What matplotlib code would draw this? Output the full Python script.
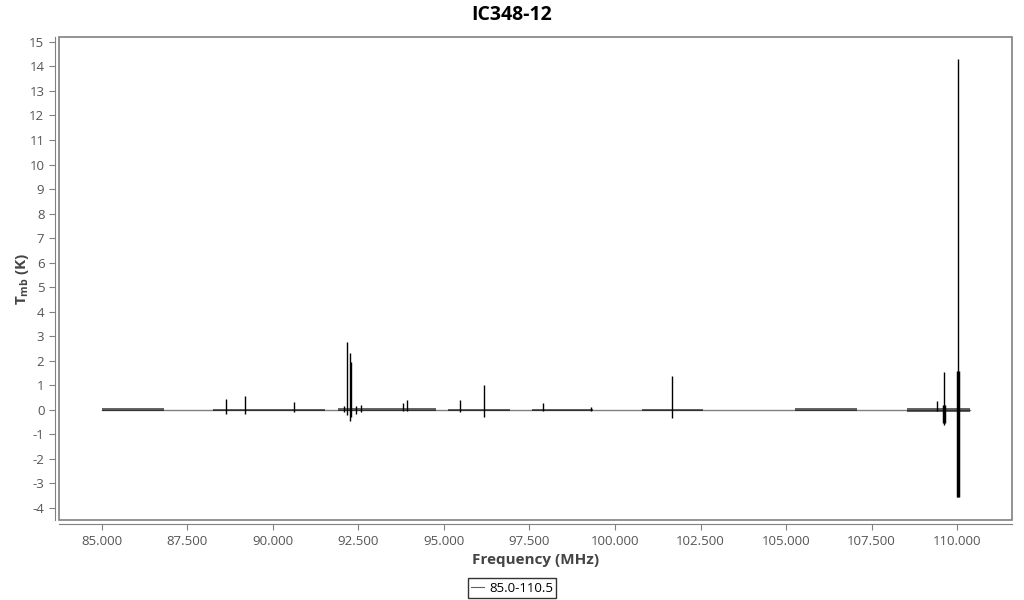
import matplotlib
matplotlib.use("Agg")
import matplotlib.pyplot as plt
from matplotlib.ticker import FuncFormatter, MultipleLocator

plt.rcParams['font.family'] = ['Open Sans', 'DejaVu Sans']
plt.rcParams['mathtext.fontset'] = 'custom'
plt.rcParams['mathtext.rm'] = 'Open Sans:bold'
plt.rcParams['mathtext.bf'] = 'Open Sans:bold'

# Spectrum IC348-12, 85.0-110.5 GHz (freq in MHz, T in K)
# noise segments: start, end, half-width of the noise band
seg_start = [85000, 88250, 91900, 95120, 97570, 100790, 105260, 108540]
seg_end = [86810, 91520, 94770, 96930, 99360, 102570, 107080, 110380]
seg_noise = [0.06, 0.05, 0.06, 0.04, 0.04, 0.05, 0.06, 0.07]

# emission / absorption lines: frequency, peak, trough
line_freq = [88630, 89180, 90610, 92080, 92165, 92250, 92290, 92420, 92560,
             93800, 93920, 95470, 96170, 97900, 99300, 101670,
             109410, 109620, 110030]
line_top = [0.45, 0.57, 0.33, 0.15, 2.77, 2.32, 1.95, 0.15, 0.2,
            0.28, 0.40, 0.40, 1.02, 0.28, 0.1, 1.38,
            0.37, 1.55, 14.3]
line_bot = [-0.15, -0.17, -0.10, -0.1, -0.2, -0.45, -0.3, -0.15, -0.1,
            -0.05, -0.05, -0.10, -0.28, -0.05, -0.05, -0.33,
            -0.05, -0.62, -3.55]

# strong broad feature at 110.2 GHz (drawn thicker)
broad_freq = [110030, 109620]
broad_top = [1.6, 0.2]
broad_bot = [-3.55, -0.55]

fig = plt.figure(figsize=(10.24, 6), dpi=100)
ax = fig.add_axes([59 / 1024, 1 - 520 / 600, (1012 - 59) / 1024, (520 - 37) / 600])

# zero baseline across the band
ax.plot([seg_start[0], seg_end[-1]], [0, 0], color='#808080', lw=1, zorder=1)

for s, e, n in zip(seg_start, seg_end, seg_noise):
    ax.fill_between([s, e], [-n, -n], [n, n], color='black', lw=0, alpha=0.6, zorder=2)

ax.vlines(line_freq, line_bot, line_top, color='black', lw=1, zorder=3)
ax.vlines(broad_freq, broad_bot, broad_top, color='black', lw=2.5, zorder=3)

# legend handle
ax.plot([], [], color='#606060', lw=0.8, label='85.0-110.5')

ax.set_xlim(83743, 111608)
ax.set_ylim(-4.49, 15.2)
ax.xaxis.set_major_locator(MultipleLocator(2500))
ax.yaxis.set_major_locator(MultipleLocator(1))
ax.xaxis.set_major_formatter(FuncFormatter(lambda v, p: f"{v:,.0f}".replace(",", ".")))
ax.yaxis.set_major_formatter(FuncFormatter(lambda v, p: f"{v:.0f}"))

ax.patch.set_edgecolor('#808080')
ax.patch.set_linewidth(1.2)
for side in ['top', 'right']:
    ax.spines[side].set_visible(False)
for side in ['left', 'bottom']:
    ax.spines[side].set_position(('outward', 3))
    ax.spines[side].set_color('#808080')
ax.tick_params(colors='#808080', labelcolor='#555555', labelsize=9.5, length=4, width=0.8)

ax.set_xlabel("Frequency (MHz)", fontsize=11, fontweight='bold', color='#444444', labelpad=4)
ax.set_ylabel(r"T$_{\mathrm{mb}}$ (K)", fontsize=11, fontweight='bold', color='#444444', labelpad=0)
ax.yaxis.set_label_coords(-28 / 953, 0.5)
fig.suptitle("IC348-12", fontsize=14, fontweight='bold', y=1 - 15 / 600, va='center')

leg = fig.legend(loc='lower center', bbox_to_anchor=(0.5, -2 / 600), fontsize=9.5,
                 frameon=True, fancybox=False, handlelength=1.0, handletextpad=0.35,
                 borderpad=0.25, borderaxespad=0.3)
leg.get_frame().set_edgecolor('black')
leg.get_frame().set_linewidth(1)

fig.savefig("out.png", dpi=100)
